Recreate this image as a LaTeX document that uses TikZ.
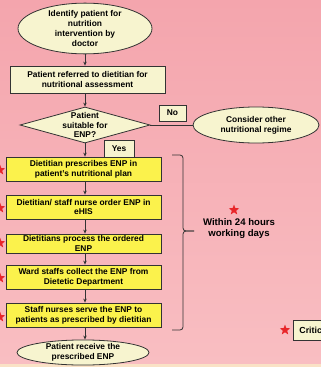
\documentclass[tikz,border=0pt]{standalone}
\usepackage{fontspec}
\setmainfont{Liberation Sans}
\usetikzlibrary{shapes.geometric,arrows.meta}
\definecolor{bgtop}{HTML}{F4A5AD}
\definecolor{bgbot}{HTML}{F9BEC2}
\definecolor{strip}{HTML}{FAE2C6}
\definecolor{cream}{HTML}{F7F4CF}
\definecolor{yel}{HTML}{FBF24C}
\definecolor{edge}{HTML}{333333}
\definecolor{starred}{HTML}{E8262A}
\tikzset{
  txt/.style={font=\fontsize{8.4}{9.9}\selectfont\bfseries, align=center, text=black, inner sep=0pt},
  bigtxt/.style={font=\fontsize{9.6}{11}\selectfont\bfseries, align=center, text=black, inner sep=0pt},
  oval/.style={ellipse, draw=edge, line width=0.8pt, fill=cream, txt},
  cbox/.style={rectangle, draw=edge, line width=0.8pt, fill=cream, txt},
  ybox/.style={rectangle, draw=edge, line width=0.8pt, fill=yel, txt, minimum width=155pt},
  diam/.style={diamond, draw=edge, line width=0.8pt, fill=cream, inner sep=0pt, minimum width=130pt, minimum height=36pt, aspect=3.6},
  arr/.style={-{Stealth[length=4pt,width=3.5pt]}, draw=edge, line width=0.8pt},
  conn/.style={draw=edge, line width=0.8pt},
  redstar/.style={star, star points=5, star point ratio=2.4, fill=starred, inner sep=0pt, minimum size=11pt}
}
\begin{document}
\begin{tikzpicture}[x=1pt,y=-1pt]
\useasboundingbox (0,0) rectangle (321,367);
\clip (0,0) rectangle (321,367);
\shade[top color=bgtop, bottom color=bgbot] (0,0) rectangle (321,364);
\fill[strip] (0,364) rectangle (321,367);

\node[oval, minimum width=134pt, minimum height=48pt] (e1) at (85,28.5) {Identify patient for\\nutrition\\intervention by\\doctor};
\node[cbox, minimum width=155pt, minimum height=27pt] (r2) at (87.5,79.5) {Patient referred to dietitian for\\nutritional assessment};
\node[diam, label={[txt]center:{Patient\\suitable for\\ENP?}}] (d3) at (85,125) {};
\node[cbox, minimum width=27pt, minimum height=16pt] (no) at (172.5,113) {No};
\node[oval, minimum width=126pt, minimum height=36pt] (e4) at (256,125) {Consider other\\nutritional regime};
\node[cbox, minimum width=30pt, minimum height=17pt] (yes) at (119,148.5) {Yes};

\node[ybox, minimum height=24pt] (b1) at (83.5,169) {Dietitian prescribes ENP in\\patient's nutritional plan};
\node[ybox, minimum height=24pt] (b2) at (83.5,207) {Dietitian/ staff nurse order ENP in\\eHIS};
\node[ybox, minimum height=19pt] (b3) at (83.5,243.5) {Dietitians process the ordered\\ENP};
\node[ybox, minimum height=24pt] (b4) at (83.5,277) {Ward staffs collect the ENP from\\Dietetic Department};
\node[ybox, minimum height=24pt] (b5) at (83.5,315) {Staff nurses serve the ENP to\\patients as prescribed by dietitian};
\node[oval, minimum width=132pt, minimum height=23pt] (e5) at (83,352.5) {Patient receive the\\prescribed ENP};

\draw[arr] (e1.south) -- (e1.south |- r2.north);
\draw[arr] (d3.north |- r2.south) -- (d3.north);
\draw[arr] (d3.south) -- (d3.south |- b1.north);
\draw[arr] (d3.south |- b1.south) -- (d3.south |- b2.north);
\draw[arr] (d3.south |- b2.south) -- (d3.south |- b3.north);
\draw[arr] (d3.south |- b3.south) -- (d3.south |- b4.north);
\draw[arr] (d3.south |- b4.south) -- (d3.south |- b5.north);
\draw[arr] (d3.south |- b5.south) -- (d3.south |- e5.north);
\draw[conn] (d3.east) -- (e4.west);

\coordinate (bt) at (172,155);
\coordinate (bm) at (194,231);
\coordinate (bb) at (172,330);
\draw[conn, rounded corners=3pt] (bt) -- (183,155) -- (183,231) -- (bm);
\draw[conn, rounded corners=3pt] (bm) -- (183,231) -- (183,330) -- (bb);

\node[redstar] (s0) at (234,210) {};
\node[bigtxt] (within) at (239,228.5) {Within 24 hours\\working days};

\node[redstar] (s1) at (0,170) {};
\node[redstar] (s2) at (0,208) {};
\node[redstar] (s3) at (0,243) {};
\node[redstar] (s4) at (0,278) {};
\node[redstar] (s5) at (0,317) {};

\node[redstar] (s6) at (285,330) {};
\node[rectangle, draw=edge, line width=0.8pt, fill=cream, font=\fontsize{8.8}{10}\selectfont\bfseries, text=black, anchor=west, minimum height=20pt, text width=34pt, align=left, inner xsep=6pt, inner ysep=0pt] (crit) at (293,330) {Critic};
\end{tikzpicture}
\end{document}
